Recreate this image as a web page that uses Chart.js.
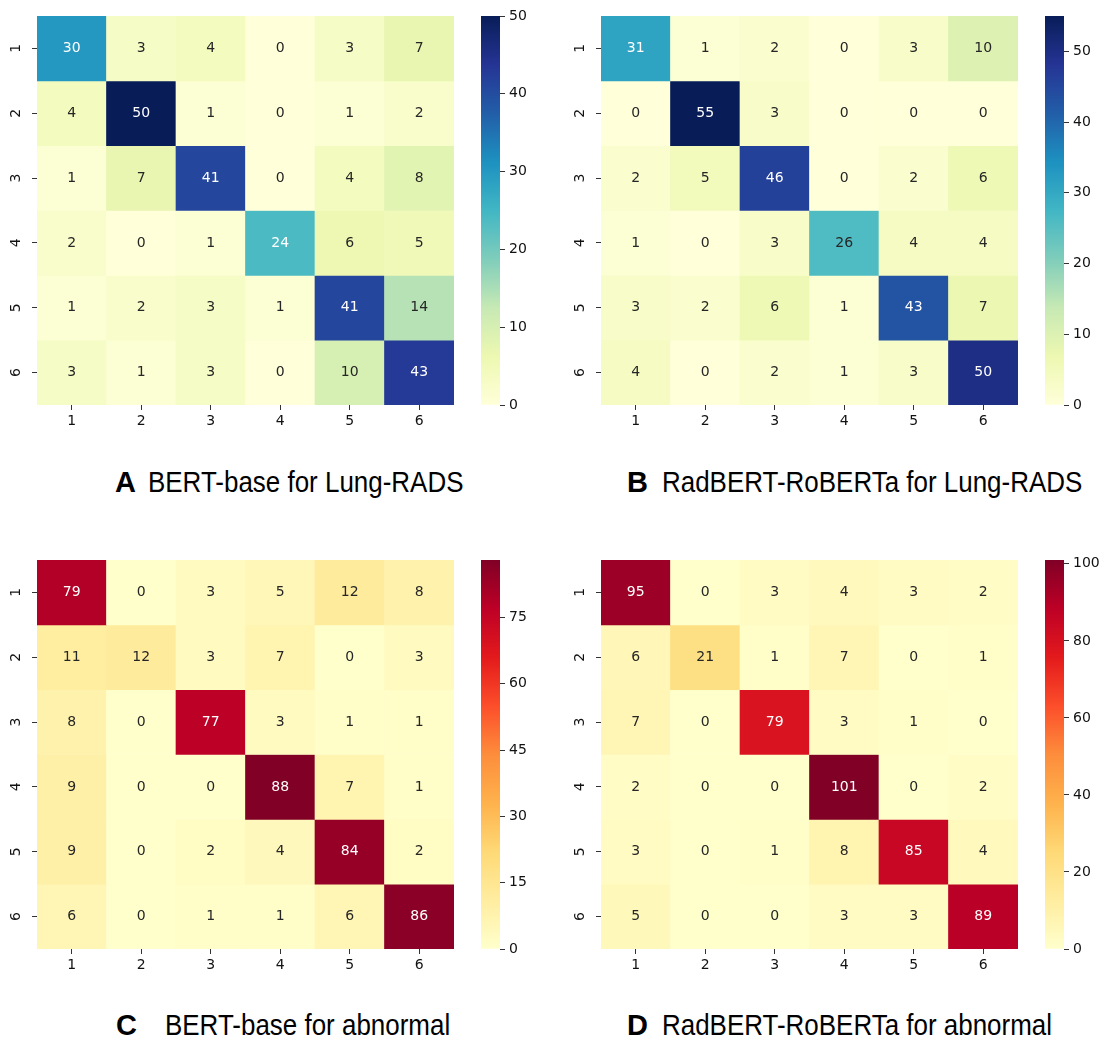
<!DOCTYPE html>
<html>
<head>
<meta charset="utf-8">
<script src="https://cdn.jsdelivr.net/npm/chart.js@4.4.0/dist/chart.umd.min.js"></script>
<style>
  body { margin: 0; background: #fff; width: 1103px; height: 1038px; overflow: hidden; position: relative; }
  canvas { position: absolute; }
  .ttl { position: absolute; font-family: "Liberation Sans", Arial, sans-serif; font-size: 29px; line-height: 29px; color: #000; white-space: nowrap; }
  .let { font-weight: bold; }
  .txt { transform: scaleX(0.895); transform-origin: left top; }
</style>
</head>
<body>
<canvas id="hmA" width="464" height="444" style="left:0px;top:-9px"></canvas>
<canvas id="cbA" width="64" height="439" style="left:481px;top:-9px"></canvas>
<canvas id="hmB" width="464" height="444" style="left:564px;top:-9px"></canvas>
<canvas id="cbB" width="64" height="439" style="left:1045px;top:-9px"></canvas>
<canvas id="hmC" width="464" height="444" style="left:0px;top:535px"></canvas>
<canvas id="cbC" width="64" height="439" style="left:481px;top:535px"></canvas>
<canvas id="hmD" width="464" height="444" style="left:564px;top:535px"></canvas>
<canvas id="cbD" width="64" height="439" style="left:1045px;top:535px"></canvas>

<div class="ttl let" style="left:115px;top:468px">A</div>
<div class="ttl txt" style="left:148px;top:468px">BERT-base for Lung-RADS</div>
<div class="ttl let" style="left:627px;top:468px">B</div>
<div class="ttl txt" style="left:662px;top:468px">RadBERT-RoBERTa for Lung-RADS</div>
<div class="ttl let" style="left:116px;top:1011px">C</div>
<div class="ttl txt" style="left:165px;top:1011px">BERT-base for abnormal</div>
<div class="ttl let" style="left:627px;top:1011px">D</div>
<div class="ttl txt" style="left:662px;top:1011px">RadBERT-RoBERTa for abnormal</div>

<script>
// tick labels (same for rows and columns)
var labels = ['1', '2', '3', '4', '5', '6'];

// confusion matrices, rows = true class, cols = predicted
var bertLung = [
  [30, 3, 4, 0, 3, 7],
  [4, 50, 1, 0, 1, 2],
  [1, 7, 41, 0, 4, 8],
  [2, 0, 1, 24, 6, 5],
  [1, 2, 3, 1, 41, 14],
  [3, 1, 3, 0, 10, 43]
];
var radLung = [
  [31, 1, 2, 0, 3, 10],
  [0, 55, 3, 0, 0, 0],
  [2, 5, 46, 0, 2, 6],
  [1, 0, 3, 26, 4, 4],
  [3, 2, 6, 1, 43, 7],
  [4, 0, 2, 1, 3, 50]
];
var bertAbn = [
  [79, 0, 3, 5, 12, 8],
  [11, 12, 3, 7, 0, 3],
  [8, 0, 77, 3, 1, 1],
  [9, 0, 0, 88, 7, 1],
  [9, 0, 2, 4, 84, 2],
  [6, 0, 1, 1, 6, 86]
];
var radAbn = [
  [95, 0, 3, 4, 3, 2],
  [6, 21, 1, 7, 0, 1],
  [7, 0, 79, 3, 1, 0],
  [2, 0, 0, 101, 0, 2],
  [3, 0, 1, 8, 85, 4],
  [5, 0, 0, 3, 3, 89]
];

// colorbar tick steps
var stepA = 10, stepB = 10, stepC = 15, stepD = 20;

// colorbrewer stops (matplotlib YlGnBu / YlOrRd)
var ylgnbu = ['#ffffd9', '#edf8b1', '#c7e9b4', '#7fcdbb', '#41b6c4', '#1d91c0', '#225ea8', '#253494', '#081d58'];
var ylorrd = ['#ffffcc', '#ffeda0', '#fed976', '#feb24c', '#fd8d3c', '#fc4e2a', '#e31a1c', '#bd0026', '#800026'];

var tickFont = { family: 'DejaVu Sans', size: 14 };
var tickCol = '#111';

function hexRgb(h) {
  return [parseInt(h.substr(1, 2), 16), parseInt(h.substr(3, 2), 16), parseInt(h.substr(5, 2), 16)];
}

function cmap(stops, t) {
  t = Math.max(0, Math.min(1, t));
  var p = t * (stops.length - 1);
  var i = Math.min(Math.floor(p), stops.length - 2);
  var f = p - i;
  var a = hexRgb(stops[i]), b = hexRgb(stops[i + 1]);
  return [0, 1, 2].map(function (k) { return Math.round(a[k] + (b[k] - a[k]) * f); });
}

function lum(c) {
  var v = c.map(function (x) {
    x = x / 255;
    return x <= 0.03928 ? x / 12.92 : Math.pow((x + 0.055) / 1.055, 2.4);
  });
  return 0.2126 * v[0] + 0.7152 * v[1] + 0.0722 * v[2];
}

var annot = {
  id: 'annot',
  afterDatasetsDraw: function (chart) {
    var ctx = chart.ctx;
    ctx.save();
    ctx.font = '14px "DejaVu Sans"';
    ctx.textAlign = 'center';
    ctx.textBaseline = 'middle';
    chart.data.datasets.forEach(function (ds, i) {
      chart.getDatasetMeta(i).data.forEach(function (bar, j) {
        ctx.fillStyle = ds.textColors[j];
        ctx.fillText(String(ds.vals[j]), bar.x, (bar.y + bar.base) / 2);
      });
    });
    ctx.restore();
  }
};

function dibuixaHeatmap(id, mat, stops) {
  var vmax = Math.max.apply(null, mat.map(function (r) { return Math.max.apply(null, r); }));
  var datasets = mat.map(function (row, i) {
    var cols = row.map(function (v) { return cmap(stops, v / vmax); });
    return {
      data: row.map(function () { return [i + 0.5, i + 1.5]; }),
      vals: row,
      backgroundColor: cols.map(function (c) { return 'rgb(' + c.join(',') + ')'; }),
      textColors: cols.map(function (c) { return lum(c) > 0.408 ? '#262626' : '#ffffff'; }),
      borderWidth: 0,
      grouped: false,
      barPercentage: 1,
      categoryPercentage: 1
    };
  });

  new Chart(document.getElementById(id), {
    type: 'bar',
    data: { labels: labels, datasets: datasets },
    options: {
      responsive: false,
      animation: false,
      layout: { padding: { top: 25, right: 10, bottom: 0, left: 0 } },
      plugins: { legend: { display: false }, tooltip: { enabled: false } },
      scales: {
        x: {
          type: 'category',
          offset: true,
          grid: { offset: false, drawOnChartArea: false, drawTicks: true, tickLength: 5, color: '#333' },
          border: { display: false },
          ticks: { font: tickFont, color: tickCol, padding: 3, maxRotation: 0 },
          afterFit: function (s) { s.height = 30; }
        },
        y: {
          type: 'linear',
          min: 0.5,
          max: 6.5,
          reverse: true,
          afterBuildTicks: function (s) {
            s.ticks = labels.map(function (l, i) { return { value: i + 1 }; });
          },
          grid: { drawOnChartArea: false, drawTicks: true, tickLength: 5, color: '#333' },
          border: { display: false },
          ticks: {
            font: tickFont, color: tickCol, padding: 11,
            minRotation: 90, maxRotation: 90, crossAlign: 'center',
            callback: function (v, idx) { return labels[idx]; }
          },
          afterFit: function (s) { s.width = 37; }
        }
      }
    },
    plugins: [annot]
  });
  return vmax;
}

function dibuixaColorbar(id, vmax, stops, step) {
  new Chart(document.getElementById(id), {
    type: 'bar',
    data: {
      labels: [''],
      datasets: [{
        data: [vmax],
        borderWidth: 0,
        barPercentage: 1,
        categoryPercentage: 1,
        backgroundColor: function (c) {
          var a = c.chart.chartArea;
          if (!a) return stops[0];
          var g = c.chart.ctx.createLinearGradient(0, a.bottom, 0, a.top);
          stops.forEach(function (s, i) { g.addColorStop(i / (stops.length - 1), s); });
          return g;
        }
      }]
    },
    options: {
      responsive: false,
      animation: false,
      layout: { padding: { top: 25, right: 0, bottom: 25, left: 0 } },
      plugins: { legend: { display: false }, tooltip: { enabled: false } },
      scales: {
        x: { display: false },
        y: {
          position: 'right',
          min: 0,
          max: vmax,
          grid: { drawOnChartArea: false, drawTicks: true, tickLength: 5, color: '#333' },
          border: { display: false },
          ticks: { font: tickFont, color: tickCol, padding: 4, stepSize: step, includeBounds: false },
          afterFit: function (s) { s.width = 45; }
        }
      }
    }
  });
}

var mA = dibuixaHeatmap('hmA', bertLung, ylgnbu);
dibuixaColorbar('cbA', mA, ylgnbu, stepA);
var mB = dibuixaHeatmap('hmB', radLung, ylgnbu);
dibuixaColorbar('cbB', mB, ylgnbu, stepB);
var mC = dibuixaHeatmap('hmC', bertAbn, ylorrd);
dibuixaColorbar('cbC', mC, ylorrd, stepC);
var mD = dibuixaHeatmap('hmD', radAbn, ylorrd);
dibuixaColorbar('cbD', mD, ylorrd, stepD);
</script>
</body>
</html>
